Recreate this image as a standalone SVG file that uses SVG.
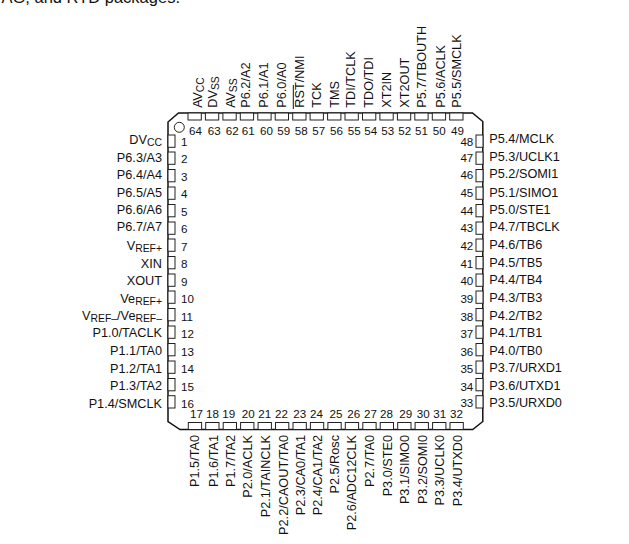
<svg xmlns="http://www.w3.org/2000/svg" width="629" height="544" viewBox="0 0 629 544">
<style>
text{font-family:"Liberation Sans",Arial,sans-serif;fill:#111}
.l{font-size:12.7px}
.n{font-size:11.6px}
.e{text-anchor:end}
.s{font-size:10.4px}
.p{fill:#fff;stroke:#222;stroke-width:1}
.o{fill:none;stroke:#111;stroke-width:1.5}
</style>
<rect width="629" height="544" fill="#fff"/>
<text x="180" y="3" font-size="16.5" class="e">AG, and RTD packages.</text>
<g id="package">
<path class="o" d="M178.500 113H472.500L482.800 121.500V421.500L472.700 429.500H180L168 421.500V122Z"/>
<circle cx="179.300" cy="127.300" r="5" fill="#fff" stroke="#222" stroke-width="1"/>
</g>
<g id="pin1"><rect class="p" x="168" y="135" width="7" height="12.300"/><text class="n" x="181" y="146">1</text><text class="l e" x="162" y="144">DV<tspan class="s" dy="2">CC</tspan></text></g>
<g id="pin2"><rect class="p" x="168" y="152" width="7" height="12.300"/><text class="n" x="181" y="163">2</text><text class="l e" x="162" y="161.700">P6.3/A3</text></g>
<g id="pin3"><rect class="p" x="168" y="169.500" width="7" height="12.300"/><text class="n" x="181" y="180.700">3</text><text class="l e" x="162" y="179">P6.4/A4</text></g>
<g id="pin4"><rect class="p" x="168" y="187" width="7" height="12.300"/><text class="n" x="181" y="198">4</text><text class="l e" x="162" y="197">P6.5/A5</text></g>
<g id="pin5"><rect class="p" x="168" y="204.500" width="7" height="12.300"/><text class="n" x="181" y="216">5</text><text class="l e" x="162" y="214.300">P6.6/A6</text></g>
<g id="pin6"><rect class="p" x="168" y="222" width="7" height="12.300"/><text class="n" x="181" y="232.700">6</text><text class="l e" x="162" y="231.300">P6.7/A7</text></g>
<g id="pin7"><rect class="p" x="168" y="239" width="7" height="12.300"/><text class="n" x="181" y="250.700">7</text><text class="l e" x="162" y="250">V<tspan class="s" dy="2">REF+</tspan></text></g>
<g id="pin8"><rect class="p" x="168" y="256.500" width="7" height="12.300"/><text class="n" x="181" y="267.700">8</text><text class="l e" x="162" y="267.700">XIN</text></g>
<g id="pin9"><rect class="p" x="168" y="274" width="7" height="12.300"/><text class="n" x="181" y="285.500">9</text><text class="l e" x="162" y="285">XOUT</text></g>
<g id="pin10"><rect class="p" x="168" y="291" width="7" height="12.300"/><text class="n" x="181" y="303.300">10</text><text class="l e" x="162" y="302.700">Ve<tspan class="s" dy="2">REF+</tspan></text></g>
<g id="pin11"><rect class="p" x="168" y="308.500" width="7" height="12.300"/><text class="n" x="181" y="320.700">11</text><text class="l e" x="162" y="320">V<tspan class="s" dy="2">REF–</tspan><tspan dy="-2">/Ve</tspan><tspan class="s" dy="2">REF–</tspan></text></g>
<g id="pin12"><rect class="p" x="168" y="326" width="7" height="12.300"/><text class="n" x="181" y="338.300">12</text><text class="l e" x="162" y="337.300">P1.0/TACLK</text></g>
<g id="pin13"><rect class="p" x="168" y="343.500" width="7" height="12.300"/><text class="n" x="181" y="356">13</text><text class="l e" x="162" y="355.300">P1.1/TA0</text></g>
<g id="pin14"><rect class="p" x="168" y="361" width="7" height="12.300"/><text class="n" x="181" y="373.300">14</text><text class="l e" x="162" y="372.700">P1.2/TA1</text></g>
<g id="pin15"><rect class="p" x="168" y="378.500" width="7" height="12.300"/><text class="n" x="181" y="390.700">15</text><text class="l e" x="162" y="390">P1.3/TA2</text></g>
<g id="pin16"><rect class="p" x="168" y="395.700" width="7" height="12.300"/><text class="n" x="181" y="408">16</text><text class="l e" x="162" y="408">P1.4/SMCLK</text></g>

<g id="pin17"><rect class="p" x="188.300" y="422.500" width="13.300" height="7"/><text class="n" x="190" y="418">17</text><text class="l e" transform="rotate(-90 199.300 435)" x="199.300" y="435">P1.5/TA0</text></g>
<g id="pin18"><rect class="p" x="205.700" y="422.500" width="13.300" height="7"/><text class="n" x="206" y="418">18</text><text class="l e" transform="rotate(-90 217.700 435)" x="217.700" y="435">P1.6/TA1</text></g>
<g id="pin19"><rect class="p" x="223.200" y="422.500" width="13.300" height="7"/><text class="n" x="222.300" y="418">19</text><text class="l e" transform="rotate(-90 235 435)" x="235" y="435">P1.7/TA2</text></g>
<g id="pin20"><rect class="p" x="240.600" y="422.500" width="13.300" height="7"/><text class="n" x="241.700" y="418">20</text><text class="l e" transform="rotate(-90 252.300 435)" x="252.300" y="435">P2.0/ACLK</text></g>
<g id="pin21"><rect class="p" x="258.100" y="422.500" width="13.300" height="7"/><text class="n" x="258.300" y="418">21</text><text class="l e" transform="rotate(-90 270 435)" x="270" y="435">P2.1/TAINCLK</text></g>
<g id="pin22"><rect class="p" x="275.500" y="422.500" width="13.300" height="7"/><text class="n" x="275" y="418">22</text><text class="l e" transform="rotate(-90 288.300 435)" x="288.300" y="435">P2.2/CAOUT/TA0</text></g>
<g id="pin23"><rect class="p" x="293" y="422.500" width="13.300" height="7"/><text class="n" x="293.300" y="418">23</text><text class="l e" transform="rotate(-90 305 435)" x="305" y="435">P2.3/CA0/TA1</text></g>
<g id="pin24"><rect class="p" x="310.400" y="422.500" width="13.300" height="7"/><text class="n" x="310" y="418">24</text><text class="l e" transform="rotate(-90 322.300 435)" x="322.300" y="435">P2.4/CA1/TA2</text></g>
<g id="pin25"><rect class="p" x="327.900" y="422.500" width="13.300" height="7"/><text class="n" x="329.500" y="418">25</text><text class="l e" transform="rotate(-90 339.300 435)" x="339.300" y="435">P2.5/Rosc</text></g>
<g id="pin26"><rect class="p" x="345.300" y="422.500" width="13.300" height="7"/><text class="n" x="347.300" y="418">26</text><text class="l e" transform="rotate(-90 356 435)" x="356" y="435">P2.6/ADC12CLK</text></g>
<g id="pin27"><rect class="p" x="362.800" y="422.500" width="13.300" height="7"/><text class="n" x="364" y="418">27</text><text class="l e" transform="rotate(-90 374 435)" x="374" y="435">P2.7/TA0</text></g>
<g id="pin28"><rect class="p" x="380.200" y="422.500" width="13.300" height="7"/><text class="n" x="380" y="418">28</text><text class="l e" transform="rotate(-90 391.700 435)" x="391.700" y="435">P3.0/STE0</text></g>
<g id="pin29"><rect class="p" x="397.700" y="422.500" width="13.300" height="7"/><text class="n" x="399.300" y="418">29</text><text class="l e" transform="rotate(-90 409 435)" x="409" y="435">P3.1/SIMO0</text></g>
<g id="pin30"><rect class="p" x="415.100" y="422.500" width="13.300" height="7"/><text class="n" x="416.700" y="418">30</text><text class="l e" transform="rotate(-90 426.700 435)" x="426.700" y="435">P3.2/SOMI0</text></g>
<g id="pin31"><rect class="p" x="432.600" y="422.500" width="13.300" height="7"/><text class="n" x="433.300" y="418">31</text><text class="l e" transform="rotate(-90 444 435)" x="444" y="435">P3.3/UCLK0</text></g>
<g id="pin32"><rect class="p" x="450" y="422.500" width="13.300" height="7"/><text class="n" x="450" y="418">32</text><text class="l e" transform="rotate(-90 461.700 435)" x="461.700" y="435">P3.4/UTXD0</text></g>

<g id="pin33"><rect class="p" x="476" y="395.700" width="7" height="12.300"/><text class="n e" x="473.300" y="407">33</text><text class="l" x="489.300" y="407">P3.5/URXD0</text></g>
<g id="pin34"><rect class="p" x="476" y="378.500" width="7" height="12.300"/><text class="n e" x="473.300" y="390.500">34</text><text class="l" x="489.300" y="390">P3.6/UTXD1</text></g>
<g id="pin35"><rect class="p" x="476" y="361" width="7" height="12.300"/><text class="n e" x="473.300" y="373">35</text><text class="l" x="489.300" y="372">P3.7/URXD1</text></g>
<g id="pin36"><rect class="p" x="476" y="343.500" width="7" height="12.300"/><text class="n e" x="473.300" y="356">36</text><text class="l" x="489.300" y="354.500">P4.0/TB0</text></g>
<g id="pin37"><rect class="p" x="476" y="326" width="7" height="12.300"/><text class="n e" x="473.300" y="338">37</text><text class="l" x="489.300" y="337">P4.1/TB1</text></g>
<g id="pin38"><rect class="p" x="476" y="308.500" width="7" height="12.300"/><text class="n e" x="473.300" y="320.500">38</text><text class="l" x="489.300" y="319.500">P4.2/TB2</text></g>
<g id="pin39"><rect class="p" x="476" y="291" width="7" height="12.300"/><text class="n e" x="473.300" y="303">39</text><text class="l" x="489.300" y="302">P4.3/TB3</text></g>
<g id="pin40"><rect class="p" x="476" y="274" width="7" height="12.300"/><text class="n e" x="473.300" y="285">40</text><text class="l" x="489.300" y="284">P4.4/TB4</text></g>
<g id="pin41"><rect class="p" x="476" y="256.500" width="7" height="12.300"/><text class="n e" x="473.300" y="267.700">41</text><text class="l" x="489.300" y="266.700">P4.5/TB5</text></g>
<g id="pin42"><rect class="p" x="476" y="239" width="7" height="12.300"/><text class="n e" x="473.300" y="250">42</text><text class="l" x="489.300" y="249.300">P4.6/TB6</text></g>
<g id="pin43"><rect class="p" x="476" y="222" width="7" height="12.300"/><text class="n e" x="473.300" y="232.300">43</text><text class="l" x="489.300" y="231.300">P4.7/TBCLK</text></g>
<g id="pin44"><rect class="p" x="476" y="204.500" width="7" height="12.300"/><text class="n e" x="473.300" y="215">44</text><text class="l" x="489.300" y="214.300">P5.0/STE1</text></g>
<g id="pin45"><rect class="p" x="476" y="187" width="7" height="12.300"/><text class="n e" x="473.300" y="197.300">45</text><text class="l" x="489.300" y="196.700">P5.1/SIMO1</text></g>
<g id="pin46"><rect class="p" x="476" y="169.500" width="7" height="12.300"/><text class="n e" x="473.300" y="179.300">46</text><text class="l" x="489.300" y="178.300">P5.2/SOMI1</text></g>
<g id="pin47"><rect class="p" x="476" y="152" width="7" height="12.300"/><text class="n e" x="473.300" y="161.700">47</text><text class="l" x="489.300" y="160.700">P5.3/UCLK1</text></g>
<g id="pin48"><rect class="p" x="476" y="135" width="7" height="12.300"/><text class="n e" x="473.300" y="146">48</text><text class="l" x="489.300" y="143.300">P5.4/MCLK</text></g>

<g id="pin49"><rect class="p" x="449.700" y="113" width="13.300" height="7"/><text class="n" x="451" y="135">49</text><text class="l" transform="rotate(-90 461 107.700)" x="461" y="107.700">P5.5/SMCLK</text></g>
<g id="pin50"><rect class="p" x="432.300" y="113" width="13.300" height="7"/><text class="n" x="432.700" y="135">50</text><text class="l" transform="rotate(-90 445 107.700)" x="445" y="107.700">P5.6/ACLK</text></g>
<g id="pin51"><rect class="p" x="414.800" y="113" width="13.300" height="7"/><text class="n" x="415" y="135">51</text><text class="l" transform="rotate(-90 426 107.700)" x="426" y="107.700">P5.7/TBOUTH</text></g>
<g id="pin52"><rect class="p" x="397.400" y="113" width="13.300" height="7"/><text class="n" x="398.300" y="135">52</text><text class="l" transform="rotate(-90 409.300 107.700)" x="409.300" y="107.700">XT2OUT</text></g>
<g id="pin53"><rect class="p" x="379.900" y="113" width="13.300" height="7"/><text class="n" x="381.300" y="135">53</text><text class="l" transform="rotate(-90 391.300 107.700)" x="391.300" y="107.700">XT2IN</text></g>
<g id="pin54"><rect class="p" x="362.500" y="113" width="13.300" height="7"/><text class="n" x="364.300" y="135">54</text><text class="l" transform="rotate(-90 373.300 107.700)" x="373.300" y="107.700">TDO/TDI</text></g>
<g id="pin55"><rect class="p" x="345" y="113" width="13.300" height="7"/><text class="n" x="347.700" y="135">55</text><text class="l" transform="rotate(-90 355 107.700)" x="355" y="107.700">TDI/TCLK</text></g>
<g id="pin56"><rect class="p" x="327.600" y="113" width="13.300" height="7"/><text class="n" x="330" y="135">56</text><text class="l" transform="rotate(-90 339.300 107.700)" x="339.300" y="107.700">TMS</text></g>
<g id="pin57"><rect class="p" x="310.100" y="113" width="13.300" height="7"/><text class="n" x="312.300" y="135">57</text><text class="l" transform="rotate(-90 321 107.700)" x="321" y="107.700">TCK</text></g>
<g id="pin58"><rect class="p" x="292.700" y="113" width="13.300" height="7"/><text class="n" x="294.700" y="135">58</text><text class="l" transform="rotate(-90 304.300 107.700)" x="304.300" y="107.700">RST/NMI</text><line x1="293.300" y1="109" x2="293.300" y2="85" stroke="#111" stroke-width="1"/></g>
<g id="pin59"><rect class="p" x="275.200" y="113" width="13.300" height="7"/><text class="n" x="277.300" y="135">59</text><text class="l" transform="rotate(-90 286 107.700)" x="286" y="107.700">P6.0/A0</text></g>
<g id="pin60"><rect class="p" x="257.800" y="113" width="13.300" height="7"/><text class="n" x="260" y="135">60</text><text class="l" transform="rotate(-90 268 107.700)" x="268" y="107.700">P6.1/A1</text></g>
<g id="pin61"><rect class="p" x="240.300" y="113" width="13.300" height="7"/><text class="n" x="241.700" y="135">61</text><text class="l" transform="rotate(-90 250 107.700)" x="250" y="107.700">P6.2/A2</text></g>
<g id="pin62"><rect class="p" x="222.900" y="113" width="13.300" height="7"/><text class="n" x="225.700" y="135">62</text><text class="l" transform="rotate(-90 234.700 107.700)" x="234.700" y="107.700">A<tspan dx="-0.5">V</tspan><tspan class="s" dy="2">SS</tspan></text></g>
<g id="pin63"><rect class="p" x="205.400" y="113" width="13.300" height="7"/><text class="n" x="207.700" y="135">63</text><text class="l" transform="rotate(-90 216.700 107.700)" x="216.700" y="107.700">DV<tspan class="s" dy="2">SS</tspan></text></g>
<g id="pin64"><rect class="p" x="188" y="113" width="13.300" height="7"/><text class="n" x="189" y="135">64</text><text class="l" transform="rotate(-90 201.700 107.700)" x="201.700" y="107.700">A<tspan dx="-0.5">V</tspan><tspan class="s" dy="2">CC</tspan></text></g>
</svg>
